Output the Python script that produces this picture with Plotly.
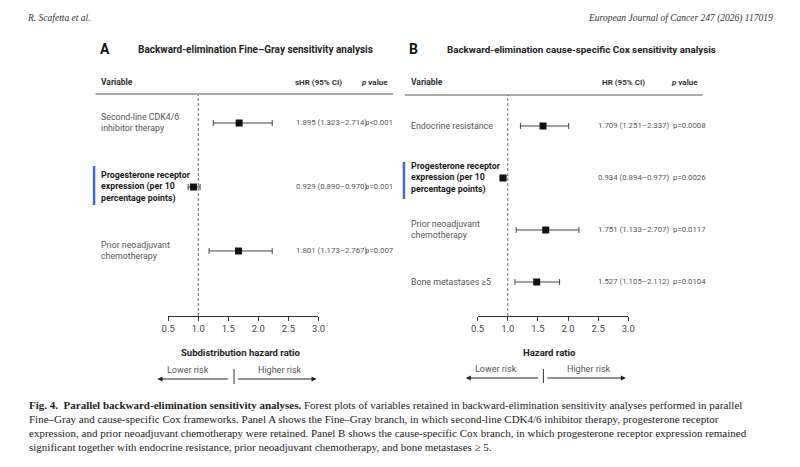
import plotly.graph_objects as go

# page body keeps its default 8px margin, so the figure is a bit smaller than the window
PAD = 8
W, H = 800 - 2 * PAD, 467 - 2 * PAD

## Panel A - Fine-Gray
vars_a = ["Second-line CDK4/6<br>inhibitor therapy",
          "<b>Progesterone receptor<br>expression (per 10<br>percentage points)</b>",
          "Prior neoadjuvant<br>chemotherapy"]
est_a = [1.68, 0.92, 1.67]
lo_a = [1.25, 0.83, 1.18]
hi_a = [2.23, 1.03, 2.23]
ci_text_a = ["1.895 (1.323–2.714)", "0.929 (0.890–0.970)", "1.801 (1.173–2.767)"]
p_a = ["p<0.001", "p=0.001", "p=0.007"]

## Panel B - cause-specific Cox
vars_b = ["Endocrine resistance",
          "<b>Progesterone receptor<br>expression (per 10<br>percentage points)</b>",
          "Prior neoadjuvant<br>chemotherapy",
          "Bone metastases ≥5"]
est_b = [1.585, 0.92, 1.63, 1.48]
lo_b = [1.21, 0.89, 1.14, 1.12]
hi_b = [2.01, 0.97, 2.18, 1.86]
ci_text_b = ["1.709 (1.251–2.337)", "0.934 (0.894–0.977)", "1.751 (1.133–2.707)", "1.527 (1.105–2.112)"]
p_b = ["p=0.0008", "p=0.0026", "p=0.0117", "p=0.0104"]

bold_rows = [False, True, False, False]

tick_vals = [0.5, 1.0, 1.5, 2.0, 2.5, 3.0]

caption = [
    "<b>Fig. 4.  Parallel backward-elimination sensitivity analyses.</b> Forest plots of variables retained in backward-elimination sensitivity analyses performed in parallel",
    "Fine–Gray and cause-specific Cox frameworks. Panel A shows the Fine–Gray branch, in which second-line CDK4/6 inhibitor therapy, progesterone receptor",
    "expression, and prior neoadjuvant chemotherapy were retained. Panel B shows the cause-specific Cox branch, in which progesterone receptor expression remained",
    "significant together with endocrine resistance, prior neoadjuvant chemotherapy, and bone metastases ≥ 5.",
]

SANS = "Roboto"
SERIF = "Liberation Serif"
GRAY = "#555555"


## page pixel -> paper coords
def px(x):
    return (x - PAD) / W


def py(y):
    return 1 - (y - PAD) / H


def txt(x, y, s, size=9, color=GRAY, anchor="left", font=SANS, **kw):
    return dict(x=px(x), y=py(y), xref="paper", yref="paper", text=s, showarrow=False,
                xanchor=anchor, yanchor="middle", font=dict(family=font, size=size, color=color), **kw)


fig = go.Figure()

panels = [
    dict(xa="x", ya="y", vars=vars_a, est=est_a, lo=lo_a, hi=hi_a, ci=ci_text_a, p=p_a,
         ci_x=292, p_x=362, lab_x=94),
    dict(xa="x2", ya="y2", vars=vars_b, est=est_b, lo=lo_b, hi=hi_b, ci=ci_text_b, p=p_b,
         ci_x=600, p_x=676, lab_x=409),
]

annotations = []
shapes = []

for pn in panels:
    rows = list(range(len(pn["vars"])))
    fig.add_trace(go.Scatter(
        x=pn["est"], y=rows, xaxis=pn["xa"], yaxis=pn["ya"], mode="markers",
        marker=dict(symbol="square", size=7, color="#111111"),
        error_x=dict(type="data", symmetric=False,
                     array=[h - e for h, e in zip(pn["hi"], pn["est"])],
                     arrayminus=[e - l for e, l in zip(pn["est"], pn["lo"])],
                     color="#444444", thickness=1, width=3),
        showlegend=False, hoverinfo="skip"))
    for i in rows:
        b = bold_rows[i]
        annotations.append(dict(x=px(pn["lab_x"]), y=i, xref="paper", yref=pn["ya"],
                                text=pn["vars"][i], showarrow=False, xanchor="left", yanchor="middle",
                                align="left",
                                font=dict(family=SANS, size=8.8, color="#1a1a1a" if b else GRAY)))
        annotations.append(dict(x=px(pn["ci_x"]), y=i, xref="paper", yref=pn["ya"],
                                text=pn["ci"][i], showarrow=False, xanchor="left", yanchor="middle",
                                font=dict(family=SANS, size=7.8, color=GRAY)))
        annotations.append(dict(x=px(pn["p_x"]), y=i, xref="paper", yref=pn["ya"],
                                text=pn["p"][i], showarrow=False, xanchor="left", yanchor="middle",
                                font=dict(family=SANS, size=7.8, color=GRAY)))
    # reference line at HR = 1
    shapes.append(dict(type="line", xref=pn["xa"], yref=pn["ya"] + " domain", x0=1, x1=1, y0=0, y1=1,
                       line=dict(color="#666666", width=1, dash="3px,2px")))

# panel headers
annotations += [
    txt(93, 49, "<b>A</b>", size=14, color="#111111"),
    txt(131, 49, "<b>Backward-elimination Fine–Gray sensitivity analysis</b>", size=10, color="#222222"),
    txt(407, 49, "<b>B</b>", size=14, color="#111111"),
    txt(446, 49, "<b>Backward-elimination cause-specific Cox sensitivity analysis</b>", size=9.8, color="#222222"),
    txt(94, 82, "<b>Variable</b>", size=8.5, color="#333333"),
    txt(317, 82, "<b>sHR (95% CI)</b>", size=8, color="#333333", anchor="center"),
    txt(374, 82, "<b><i>p</i> value</b>", size=8, color="#333333", anchor="center"),
    txt(409, 82, "<b>Variable</b>", size=8.5, color="#333333"),
    txt(628, 82, "<b>HR (95% CI)</b>", size=8, color="#333333", anchor="center"),
    txt(690, 82, "<b><i>p</i> value</b>", size=8, color="#333333", anchor="center"),
    txt(238, 352, "<b>Subdistribution hazard ratio</b>", size=9.5, color="#222222", anchor="center"),
    txt(552, 352, "<b>Hazard ratio</b>", size=9.5, color="#222222", anchor="center"),
    txt(184, 370, "Lower risk", size=9, anchor="center"),
    txt(278, 370, "Higher risk", size=9, anchor="center"),
    txt(498, 369, "Lower risk", size=9, anchor="center"),
    txt(592, 369, "Higher risk", size=9, anchor="center"),
    # running header
    txt(18, 18, "<i>R. Scafetta et al.</i>", size=9.5, color="#333333", font=SERIF),
    txt(782, 18, "<i>European Journal of Cancer 247 (2026) 117019</i>", size=9.5, color="#333333",
        font=SERIF, anchor="right"),
]

for k, line in enumerate(caption):
    annotations.append(txt(20, 405 + 14 * k, line, size=11, color="#222222", font=SERIF))

# risk arrows
for head, tail, yy in [(153, 225, 379), (315, 235, 379), (467, 541, 378), (630, 550, 378)]:
    annotations.append(dict(x=px(head), y=py(yy), xref="paper", yref="paper", text="",
                            showarrow=True, ax=tail - head, ay=0, arrowhead=2, arrowsize=1,
                            arrowwidth=1, arrowcolor="#222222"))

# separators, header rules, highlight bars
for x0, y0, x1, y1, col, w in [
    (231, 369, 231, 384, "#333333", 1), (546, 369, 546, 383, "#333333", 1),
    (90, 94, 393, 94, "#555555", 1), (405, 95, 708, 95, "#555555", 1),
    (88.5, 166, 88.5, 205, "#3a6cc8", 2.5), (404, 162, 404, 199, "#3a6cc8", 2.5),
]:
    shapes.append(dict(type="line", xref="paper", yref="paper", x0=px(x0), x1=px(x1),
                       y0=py(y0), y1=py(y1), line=dict(color=col, width=w)))

xax = dict(range=[0.5, 3.0], tickvals=tick_vals, tickformat=".1f", showline=True, linecolor="#333333",
           linewidth=1, ticks="outside", ticklen=4, tickcolor="#333333", showgrid=False, zeroline=False,
           tickfont=dict(family=SANS, size=9.5, color="#444444"), fixedrange=True)
yax = dict(showline=False, showticklabels=False, showgrid=False, zeroline=False, ticks="",
           domain=[py(316), py(95)])

fig.update_layout(
    width=W, height=H, margin=dict(l=0, r=0, t=0, b=0),
    paper_bgcolor="white", plot_bgcolor="white",
    xaxis=dict(xax, domain=[px(164), px(317)], anchor="y"),
    xaxis2=dict(xax, domain=[px(479), px(632.5)], anchor="y2"),
    yaxis=dict(yax, range=[3.016, -0.4375], anchor="x"),
    yaxis2=dict(yax, range=[3.654, -0.596], anchor="x2"),
    annotations=annotations, shapes=shapes,
)

fig.write_html("out.html")
